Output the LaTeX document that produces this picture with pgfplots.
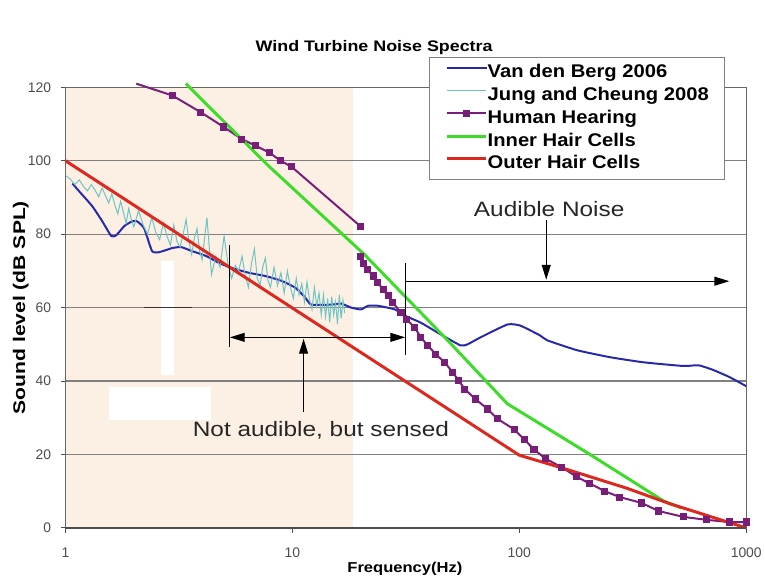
\documentclass[border=0pt]{standalone}
\usepackage{fontspec}
\setmainfont{Liberation Sans}
\usepackage{graphicx}
\usepackage{pgfplots}
\pgfplotsset{compat=1.18}
\usetikzlibrary{arrows.meta}
\definecolor{vdb}{RGB}{40,40,170}
\definecolor{jc}{RGB}{110,195,195}
\definecolor{hh}{RGB}{120,30,120}
\definecolor{ihc}{RGB}{60,220,40}
\definecolor{ohc}{RGB}{220,40,30}
\definecolor{peach}{RGB}{252,240,228}
\definecolor{gridc}{RGB}{128,128,128}
\newcommand{\hs}[1]{\scalebox{1.17}[1]{#1}}
\newcommand{\hl}[1]{\scalebox{1.1}[1]{#1}}
\begin{document}
\begin{tikzpicture}
\begin{axis}[
  at={(66pt,50pt)}, anchor=south west,
  scale only axis, width=686pt, height=444pt,
  xmode=log, xmin=1, xmax=1000, ymin=0, ymax=120,
  xtick={1,10,100,1000}, xticklabels={1,10,100,1000},
  ytick={0,20,40,60,80,100,120}, yticklabels={0,20,40,60,80,100,120},
  xminorticks=false,
  ymajorgrids, grid style={gridc, line width=1.2pt},
  axis line style={gridc!80!black, line width=1.2pt},
  tick style={black!70, line width=1pt}, major tick length=5pt,
  tick align=outside, xtick pos=left, ytick pos=left,
  ticklabel style={font=\fontsize{14}{16}\selectfont, text=black!70},
  xticklabel style={yshift=-12pt},
  yticklabel style={xshift=-6pt},
  clip=false,
  set layers,
  legend style={at={(axis description cs:0.5335,1.0698)}, anchor=north west,
    draw=gray, line width=1pt, fill=white,
    font=\fontsize{18.5}{21}\selectfont\bfseries,
    inner xsep=16pt, inner ysep=7pt, row sep=4.9pt,
    nodes={inner sep=0pt, text height=14pt, text depth=4pt},
    /tikz/every even column/.append style={column sep=3pt}},
  legend cell align=left,
  legend image code/.code={\draw[mark repeat=2,mark phase=2,#1] plot coordinates {(0pt,5pt) (20pt,5pt) (40pt,5pt)};},
]
\begin{pgfonlayer}{axis background}
\fill[peach] (axis cs:1,0) rectangle (axis cs:18.5,120);
\fill[white] (axis cs:2.64,41.6) rectangle (axis cs:3.0,72.7);
\fill[white] (axis cs:1.56,29.5) rectangle (axis cs:4.37,38.4);
\end{pgfonlayer}
\draw[black!80, line width=1.2pt] (axis cs:2.22,60) -- (axis cs:3.6,60);

% Van den Berg 2006
\addplot[vdb, line width=2pt, no marks, smooth, tension=0.3] coordinates {
(1.073,93.8) (1.152,91.6) (1.313,87.6) (1.453,83.5) (1.591,79.5) (1.674,79.7)
(1.815,82.2) (1.967,83.5) (2.069,83.5) (2.221,81.6) (2.407,75.4) (2.585,75.1)
(2.946,76.2) (3.227,76.5) (3.606,75.4) (4.153,74.1) (4.736,72.2) (5.402,70.8)
(6.412,69.5) (7.612,68.6) (8.950,67.3) (10.31,65.4) (11.40,62.7) (12.12,60.8)
(14.83,60.8) (16.40,61.1) (18.15,60.0) (20.07,59.5) (21.54,60.5) (23.84,60.5)
(28.30,59.5) (31.31,57.8) (36.80,55.9) (45.03,52.7) (55.11,49.7) (59.15,50.0)
(67.44,51.9) (88.60,55.4) (101.0,55.1) (123.6,52.4) (132.7,51.1) (179.6,48.4)
(250.7,46.5) (353.4,45.1) (529.4,44.1) (615.9,44.3) (716.6,43.0) (842.3,41.1)
(1000,38.6)};
\addlegendentry{\hl{Van den Berg 2006}}

% Jung and Cheung 2008
\addplot[jc, line width=1pt, no marks] coordinates {
(1.00,96.0) (1.05,95.0) (1.10,93.5) (1.15,94.8) (1.20,93.0) (1.25,91.8) (1.30,93.5)
(1.35,92.0) (1.40,90.2) (1.45,92.6) (1.50,90.5) (1.55,88.5) (1.60,91.0) (1.65,88.0)
(1.70,85.5) (1.75,89.0) (1.80,86.0) (1.85,83.0) (1.90,87.0) (1.95,84.0) (2.00,82.0)
(2.1,86.5) (2.2,82.5) (2.3,80.0) (2.4,84.5) (2.5,80.5) (2.6,78.5) (2.7,83.0)
(2.8,79.5) (2.9,77.0) (3.0,82.5) (3.1,78.0) (3.2,76.5) (3.3,80.0) (3.4,84.0)
(3.5,78.0) (3.6,74.5) (3.7,79.0) (3.8,81.5) (3.9,75.5) (4.0,73.0)
(4.2,84.5) (4.4,69.0) (4.6,74.0) (4.8,71.0) (5.0,79.5) (5.2,72.0) (5.4,68.0)
(5.6,71.5) (5.8,70.0) (6.0,74.0) (6.2,68.5) (6.4,65.5) (6.6,72.0) (6.8,76.0)
(7.0,68.0) (7.2,66.0) (7.4,71.0) (7.6,73.5) (7.8,67.5) (8.0,65.5)
(8.3,71.0) (8.6,66.0) (8.9,69.5) (9.2,64.0) (9.5,70.0) (9.8,65.5) (10.1,62.5)
(10.4,68.0) (10.7,63.5) (11.0,66.5) (11.3,61.5) (11.6,67.0) (11.9,62.0) (12.2,59.5)
(12.5,65.5) (12.8,60.5) (13.1,64.0) (13.4,58.0) (13.7,63.5) (14.0,57.5) (14.3,62.5)
(14.6,56.0) (14.9,63.0) (15.2,58.0) (15.5,61.5) (15.8,55.5) (16.1,63.5) (16.4,57.0)
(16.7,62.0) (17.0,58.5)};
\addlegendentry{\hl{Jung and Cheung 2008}}

% Human Hearing
\addplot[hh, line width=2pt, mark=square*, mark size=2.6pt, mark options={solid}] coordinates {
(2.95,117.8) (3.95,113.2) (4.98,109.2) (5.98,105.9) (6.88,104.1) (7.93,102.2)
(8.86,100.0) (9.9,98.4) (19.9,82.2)};
\addlegendentry{\hl{Human Hearing}}
\addplot[hh, line width=2pt, no marks, forget plot] coordinates {(2.05,121.0) (2.95,117.8)};
\addplot[hh, line width=2pt, mark=square*, mark size=2.6pt, forget plot] coordinates {
(20,74.0) (20.5,71.9) (21.5,70.3) (22.7,68.6) (23.8,66.8) (25.1,64.9) (26.4,63.2)
(27.7,61.4) (30.1,58.6) (31.9,56.8) (34.6,54.6) (36.8,51.9) (39.5,49.7) (42.8,47.3)
(46.9,45.1) (50.8,42.4) (54.0,40.2) (57.4,37.8) (64.1,35.1) (72.4,32.4) (80.1,29.7)
(95.1,26.8) (105,24.1) (116,21.4) (130,18.9) (154,16.5) (178,14.0) (203,12.2)
(238,10.0) (277,8.4) (346,6.8) (411,4.6) (529,3.0) (668,2.2) (842,1.6) (1000,1.6)};

% Inner Hair Cells
\addplot[ihc, line width=3pt, no marks] coordinates {
(3.39,121.0) (7.85,98.6) (20.9,74.3) (48.3,51.1) (88.6,33.8) (205,20.0) (433,7.3) (519,5.4)};
\addlegendentry{\hl{Inner Hair Cells}}

% Outer Hair Cells
\addplot[ohc, line width=3pt, no marks] coordinates {
(1,100) (70,26.0) (100,19.8) (157,16.2) (298,10.8) (460,6.6) (1000,0)};
\addlegendentry{\hl{Outer Hair Cells}}

% bottom axis line
\draw[black!70, line width=1.5pt] (axis cs:1,0) -- (axis cs:1000,0);

% annotations
\draw[black, line width=1.2pt] (axis cs:5.3,77) -- (axis cs:5.3,49.2);
\draw[black, line width=1.2pt] (axis cs:31.6,72.2) -- (axis cs:31.6,47);
\draw[black, line width=1.2pt, {Triangle[length=15pt,width=9pt]}-{Triangle[length=15pt,width=9pt]}]
  (axis cs:5.3,51.9) -- (axis cs:31.4,51.9);
\draw[black, line width=1.2pt, -{Triangle[length=15pt,width=9pt]}]
  (axis cs:11.2,31.6) -- (axis cs:11.2,51.5);
\draw[black, line width=1.2pt, -{Triangle[length=15pt,width=9pt]}]
  (axis cs:31.6,67.2) -- (axis cs:842,67.2);
\draw[black, line width=1.2pt, -{Triangle[length=15pt,width=9pt]}]
  (axis cs:131.4,83.8) -- (axis cs:131.4,67.6);
\node[font=\fontsize{21}{24}\selectfont, text=black!85] at (axis cs:135.4,86.9) {\hs{Audible Noise}};
\node[font=\fontsize{21}{24}\selectfont, text=black!85] at (axis cs:13.36,26.5) {\hs{Not audible, but sensed}};
\end{axis}
\node[font=\fontsize{15.4}{18}\selectfont\bfseries] at (377pt,534pt) {\hs{Wind Turbine Noise Spectra}};
\node[font=\fontsize{14.5}{17}\selectfont\bfseries] at (408pt,9pt) {\scalebox{1.15}[1]{Frequency(Hz)}};
\node[font=\fontsize{17}{20}\selectfont\bfseries, rotate=90] at (21pt,272pt) {\scalebox{1.25}[1]{Sound level (dB SPL)}};
\path (0pt,0pt) rectangle (765pt,582pt);
\end{tikzpicture}
\end{document}
